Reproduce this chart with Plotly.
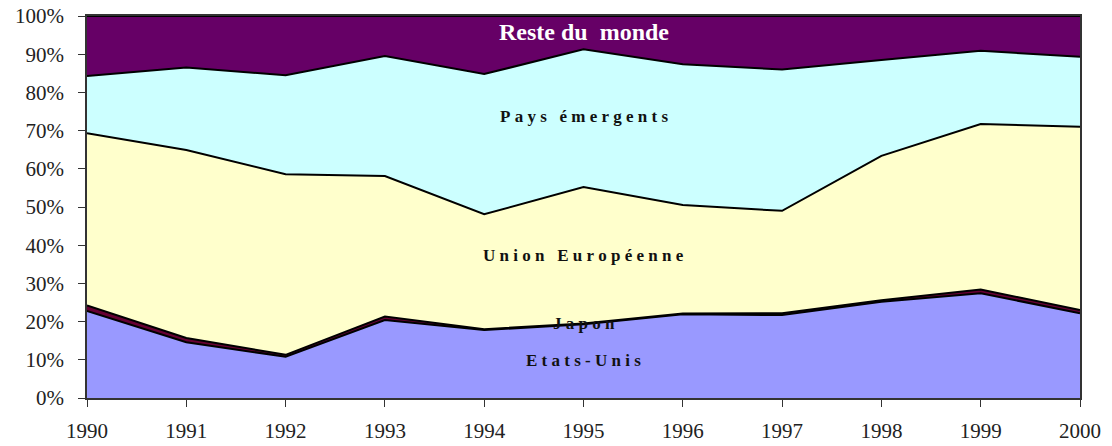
import plotly.graph_objects as go

years = [1990, 1991, 1992, 1993, 1994, 1995, 1996, 1997, 1998, 1999, 2000]
# shares in % (cumulative boundaries converted to bands)
etats_unis = [22.8, 14.6, 10.8, 20.4, 17.8, 19.3, 21.9, 21.7, 25.2, 27.4, 22.2]
japon      = [1.4, 1.1, 0.5, 0.9, 0.2, 0.2, 0.2, 0.5, 0.4, 1.0, 0.8]
union_eur  = [45.1, 49.2, 47.3, 36.8, 30.1, 35.7, 28.4, 26.8, 37.8, 43.3, 48.0]
pays_emerg = [15.0, 21.6, 25.9, 31.4, 36.7, 36.1, 36.9, 37.0, 25.1, 19.2, 18.3]
reste      = [15.7, 13.5, 15.5, 10.5, 15.2, 8.7, 12.6, 14.0, 11.5, 9.1, 10.7]

series = [
    ("Etats-Unis", etats_unis, "#9999FF"),
    ("Japon", japon, "#660033"),
    ("Union Européenne", union_eur, "#FFFFCC"),
    ("Pays émergents", pays_emerg, "#CCFFFF"),
    ("Reste du monde", reste, "#660066"),
]

fig = go.Figure()
for name, vals, col in series:
    fig.add_trace(go.Scatter(
        x=years, y=vals, name=name, mode="lines",
        stackgroup="one", groupnorm="fraction",
        line=dict(color="#000000", width=2),
        fillcolor=col, hoverinfo="x+y+name",
    ))

SP = "\u2005"
def spaced(s):
    return SP.join(list(s)).replace(SP + " " + SP, SP + "\u00a0" + SP)

serif = "Liberation Serif, Times New Roman, serif"
ann = [
    ("Reste du\u00a0\u00a0monde", 0.958, "#FFFFFF", 24, False),
    ("Pays émergents", 0.738, "#111111", 17, True),
    ("Union Européenne", 0.372, "#111111", 17, True),
    ("Japon", 0.196, "#111111", 17, True),
    ("Etats-Unis", 0.099, "#111111", 17, True),
]
for txt, yy, col, sz, sp in ann:
    fig.add_annotation(
        x=1995, y=yy, xref="x", yref="y",
        text="<b>" + (spaced(txt) if sp else txt) + "</b>",
        showarrow=False,
        font=dict(family=serif, size=sz, color=col),
        xanchor="center", yanchor="middle",
    )

# page body has an 8px margin: the figure starts at (8, 8) in the window
fig.update_layout(
    width=1104, height=438,
    margin=dict(l=79, r=32, t=8, b=48, autoexpand=False),
    paper_bgcolor="white", plot_bgcolor="white",
    showlegend=False,
    font=dict(family=serif, size=21, color="#222222"),
)
fig.update_xaxes(
    range=[1990, 2000], tickmode="array", tickvals=years,
    ticktext=[str(y) for y in years],
    showgrid=False, zeroline=False, automargin=False,
    showline=True, linecolor="#333333", linewidth=1.5, mirror=True,
    ticks="outside", ticklen=7, tickcolor="#333333",
    ticklabelstandoff=6, ticklabeloverflow="allow",
)
fig.update_yaxes(
    range=[0, 1], tickmode="array",
    tickvals=[i / 10 for i in range(11)],
    ticktext=[f"{i*10}%" for i in range(11)],
    showgrid=False, zeroline=False, automargin=False,
    showline=True, linecolor="#333333", linewidth=1.5, mirror=True,
    ticks="outside", ticklen=7, tickcolor="#333333",
    ticklabelstandoff=10, ticklabeloverflow="allow",
)

fig.write_html("out.html")
